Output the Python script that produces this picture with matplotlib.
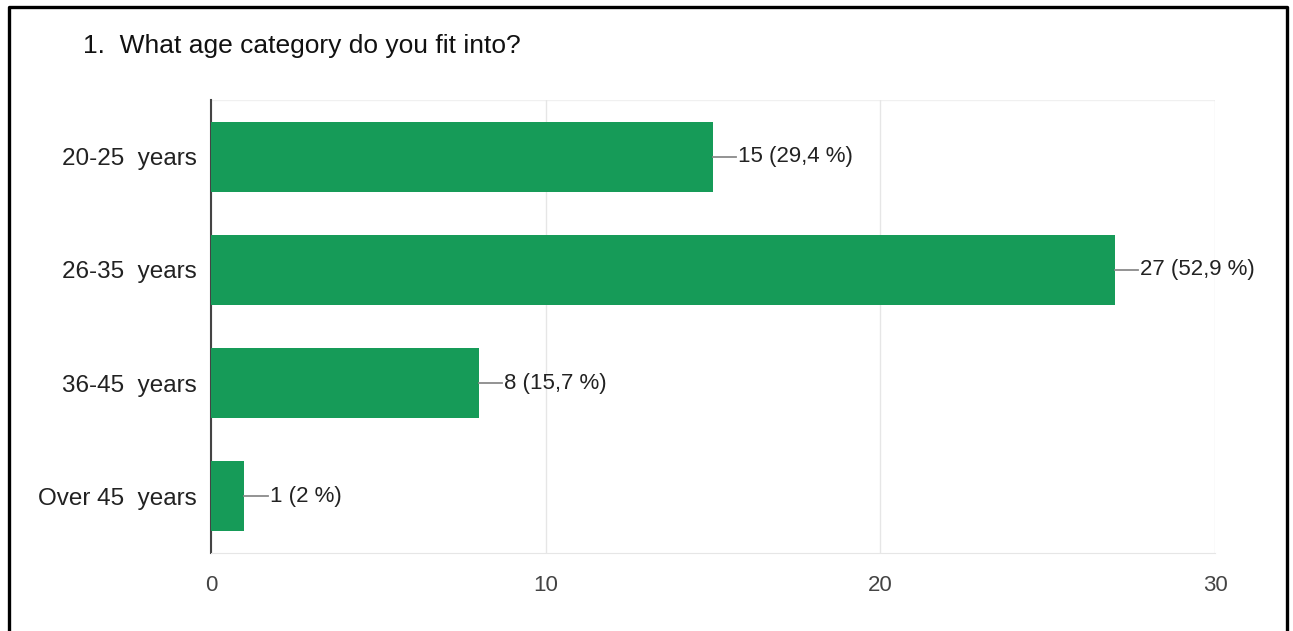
import matplotlib.pyplot as plt
from matplotlib.lines import Line2D
from matplotlib import font_manager

# Data
categories = ['20-25  years', '26-35  years', '36-45  years', 'Over 45  years']
counts = [15, 27, 8, 1]
percents = ['29,4', '52,9', '15,7', '2']
xticks = [0, 10, 20, 30]

names = {f.name for f in font_manager.fontManager.ttflist}
fam = ['Liberation Sans Narrow', 'Liberation Sans', 'DejaVu Sans']
fam = [f for f in fam if f in names]
plt.rcParams['font.family'] = fam

green = '#169b58'

fig = plt.figure(figsize=(12.93, 6.31), dpi=100)
ax = fig.add_axes([211 / 1293, 1 - 553 / 631, 1004 / 1293, 453 / 631])

ypos = list(range(len(categories)))
ax.barh(ypos, counts, height=0.62, color=green, zorder=3)

# value labels with short leader lines
for y, c, p in zip(ypos, counts, percents):
    ax.plot([c, c + 0.7], [y, y], color='#8a8a8a', lw=1.3, zorder=3)
    ax.text(c + 0.75, y, f'{c} ({p} %)', va='center', ha='left',
            fontsize=16, color='#222222')

ax.set_xlim(0, 30)
ax.set_ylim(len(categories) - 0.5, -0.5)
ax.set_xticks(xticks)
ax.set_xticklabels([str(t) for t in xticks], fontsize=16, color='#444444')
ax.set_yticks(ypos)
ax.set_yticklabels(categories, fontsize=17.5, color='#222222')
ax.tick_params(length=0, pad=10)
ax.tick_params(axis='x', pad=16)

ax.grid(axis='x', color='#e6e6e6', lw=1, zorder=0)
for s in ['top', 'right']:
    ax.spines[s].set_visible(False)
ax.spines['bottom'].set_color('#e6e6e6')
ax.spines['left'].set_color('#444444')
ax.spines['left'].set_linewidth(1.5)
ax.axhline(-0.5, color='#f0f0f0', lw=1, zorder=0)

fig.text(83 / 1293, 1 - 46 / 631, '1.  What age category do you fit into?',
         fontsize=19, va='center', ha='left', color='#111111')

# outer frame (left, top, right)
fx0, fx1, fy1 = 9 / 1293, 1287 / 1293, 1 - 7 / 631
fig.add_artist(Line2D([fx0, fx0, fx1, fx1], [0, fy1, fy1, 0],
                      transform=fig.transFigure, color='black', lw=2.4))

fig.savefig('out.png', dpi=100)
